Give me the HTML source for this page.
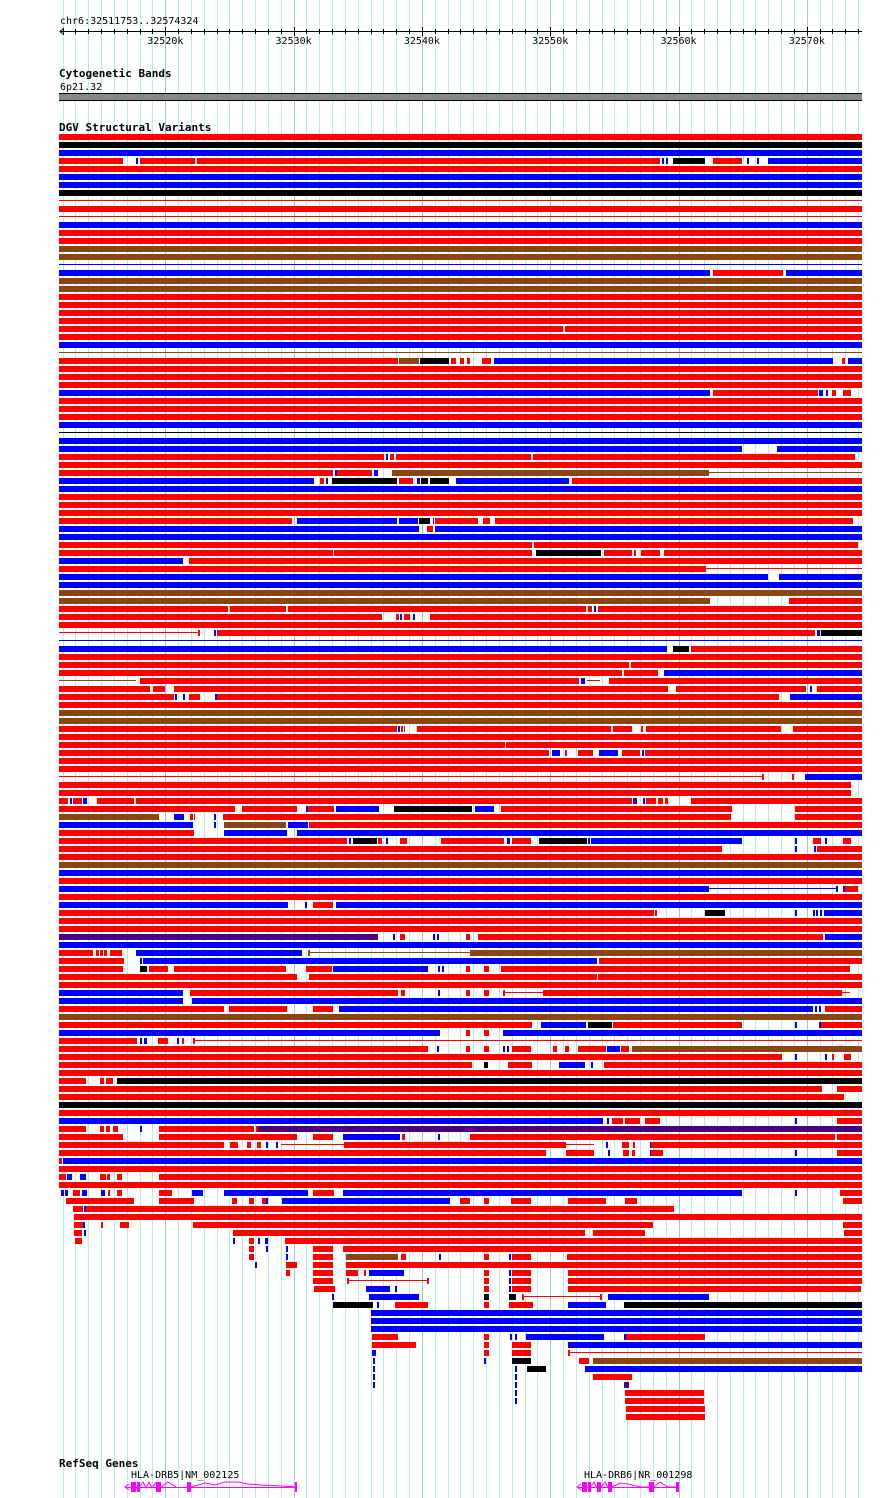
<!DOCTYPE html>
<html><head><meta charset="utf-8">
<style>
html,body{margin:0;padding:0;background:#fff;}
body{width:890px;height:1498px;overflow:hidden;}
svg{display:block;}
text{font-family:"DejaVu Sans Mono","Liberation Mono",monospace;font-size:10px;}
.b{font-weight:bold;font-size:11px;}
</style></head><body>
<svg id="s" width="890" height="1498" xmlns="http://www.w3.org/2000/svg">
<g id="grid"></g>
<g id="ruler"></g>
<text x="60" y="24">chr6:32511753..32574324</text>
<text x="59" y="77" class="b">Cytogenetic Bands</text>
<text x="60" y="90">6p21.32</text>
<rect x="59" y="93" width="803" height="8" fill="#000"/>
<rect x="59" y="94" width="803" height="6" fill="#888"/>
<text x="59" y="131" class="b">DGV Structural Variants</text>
<g id="rows"></g>
<text x="59" y="1467" class="b">RefSeq Genes</text>
<text x="131" y="1478">HLA-DRB5|NM_002125</text>
<text x="584" y="1478">HLA-DRB6|NR_001298</text>
<g id="genes" fill="#ff00ff" stroke="#ff00ff"></g>
</svg>
<script>
var NS="http://www.w3.org/2000/svg";
function el(p,t,a){var e=document.createElementNS(NS,t);for(var k in a)e.setAttribute(k,a[k]);p.appendChild(e);return e;}
var g=document.getElementById('grid');
for(var k=-8;k<=54;k++){var x=165.3+12.83*k;if(x<58||x>863)continue;
 el(g,'rect',{x:Math.round(x),y:0,width:1,height:1498,fill:(k%10==0)?'#98c8e8':'#b4ecf0'});}
var r=document.getElementById('ruler');
el(r,'rect',{x:60,y:31,width:802,height:1,fill:'#000'});
el(r,'path',{d:'M64 28 L60 31.5 L64 35',stroke:'#000',fill:'none'});
for(var k=-8;k<=54;k++){var x=Math.round(165.3+12.83*k);if(x<62||x>862)continue;
 el(r,'rect',{x:x,y:(k%10==0)?27:29,width:1,height:(k%10==0)?9:5,fill:'#000'});}
var labs=['32520k','32530k','32540k','32550k','32560k','32570k'];
for(var i=0;i<6;i++){var t=el(r,'text',{x:165.3+128.3*i,y:44,'text-anchor':'middle'});t.textContent=labs[i];}
var C={r:'#ff0000',b:'#0000ff',k:'#000000',n:'#8b4513',p:'#4b0082'};
var R=[
'r','k','b',
'r 59 123,b 136 138,r 140 195,r 197 660,b 662 664,b 666 668,k 673 705,r 713 742,b 747 749,b 757 759,b 768 862',
'r','b','b','k','r 59 862 t','r','r 59 862 t','b','r','r','n','n','b 59 862 t',
'b 59 710,r 713 783,b 786 862','n','n','r','r','r','r','r 59 563,r 565 862','r','b','n 59 862 t',
'r 59 398,n 399 419,k 420 449,r 451 456,r 460 464,r 467 470,r 482 491,b 494 833,r 842 845,b 848 862',
'r','r','r','b 59 710,r 713 818,b 819 823,b 826 828,r 832 836,r 843 851','r','r','r','b','k 59 862 t','b',
'b 59 742,b 777 862','r 59 384,b 386 388,r 390 394,r 396 531,r 533 855','r',
'r 59 333,b 335 337,r 337 372,b 374 378,n 392 709,n 709 862 t',
'b 59 314,r 320 324,b 326 328,k 332 397,r 399 413,b 417 420,k 421 428,k 430 449,b 456 569,r 572 862',
'b','r','r','r',
'r 59 292,b 297 397,b 399 418,k 419 430,b 433 434,r 435 478,r 483 490,r 495 853',
'b 59 419,r 427 433,b 435 862','b',
'r 59 532,r 534 858','r 59 333,r 334 532,k 536 601,r 604 632,r 634 636,r 641 660,r 664 862',
'b 59 183,r 189 862','r 59 706,r 706 862 t','b 59 768,b 779 862','b','n','n 59 710,r 789 862',
'r 59 228,r 230 286,r 288 586,r 588 592,b 594 596,r 598 862','r 59 382,r 396 399,b 400 402,r 404 410,b 413 415,r 430 862','r',
'r 59 198 t,r 198 200,b 214 216,r 217 815,b 817 820,k 821 862','b 59 862 t','b 59 667,k 673 689,r 691 862','r','r 59 629,r 631 862',
'r 59 622,r 624 658,b 664 862','n 59 136 t,r 140 579,b 581 585,r 587 600 t,r 609 862',
'r 59 150,r 153 165,r 174 668,r 676 806,b 810 812,r 817 862','r 59 174,b 175 177,b 183 185,r 189 200,b 215 217,r 217 779,b 790 862',
'r','n','n','r 59 397,b 398 400,r 401 403,r 404 405,r 417 611,r 613 632,r 641 643,r 646 781,r 793 862','r','r 59 505,r 506 862',
'r 59 549,b 552 560,r 565 567,r 578 593,b 599 618,r 622 640,b 642 644,r 645 862','r','r','r 59 763 t,r 762 764,r 792 794,b 805 862',
'r 59 851','r 59 851',
'r 59 68,b 70 72,r 73 82,b 83 87,r 97 134,r 136 632,p 633 637,b 643 645,r 646 656,r 658 663,r 665 668,r 691 862',
'r 59 235,r 242 297,b 306 308,r 308 334,b 336 379,k 394 472,b 475 494,r 501 732,r 795 862',
'n 59 159,b 174 184,r 190 193,r 194 195,b 214 216,r 223 731,r 795 862',
'b 59 193,b 214 216,n 224 286,b 288 308,r 309 862','r 59 194,b 224 287,b 297 862',
'r 59 347,b 349 351,k 353 377,r 378 382,b 386 388,r 400 407,r 441 504,b 507 510,r 512 531,k 539 587,b 588 590,b 591 742,b 795 797,r 813 821,b 825 827,r 843 851',
'r 59 722,b 795 797,b 814 816,r 817 862','r','n','b','r','b 59 709,b 709 837 t,b 836 838,b 843 845,r 845 858',
'r','b 59 288,b 305 307,r 313 333,b 336 862','r 59 654,r 655 657,k 705 725,b 795 797,b 813 815,b 816 818,b 820 822,b 824 862','r','r',
'p 59 378,b 393 395,r 400 405,b 433 435,b 437 439,r 466 470,r 478 823,b 825 862','b',
'r 59 93,r 96 99,r 100 103,r 104 107,r 110 122,b 136 302,n 308 310,n 310 470 t,n 470 862',
'r 59 124,b 140 142,b 143 597,r 599 862',
'r 59 123,k 140 147,r 149 168,r 174 286,r 306 332,b 333 428,b 438 440,b 442 444,r 466 470,r 484 489,r 501 850',
'r 59 297,r 309 597,r 598 862','r',
'b 59 183,r 190 398,r 401 405,b 438 440,r 466 470,r 484 489,r 503 505,r 505 543 t,r 543 842,r 842 850 t',
'b 59 183,b 192 862','r 59 224,r 229 287,r 313 333,b 339 813,b 815 817,b 819 821,r 825 862','n',
'r 59 532,b 541 586,k 588 612,r 613 742,b 795 797,b 819 821,r 821 862',
'b 59 440,r 466 470,r 484 489,b 503 862','r 59 137,b 140 142,b 144 147,r 158 168,b 177 179,r 182 184,r 193 195,r 193 862 t',
'r 59 428,b 437 439,r 466 470,r 484 489,b 503 505,b 507 509,r 512 531,r 553 557,r 565 569,r 578 606,b 607 620,r 621 629,n 632 862',
'r 59 782,b 795 797,b 825 827,r 832 834,r 844 851','r 59 472,k 484 488,r 508 532,b 559 585,b 591 593,r 604 862','r',
'r 59 86,r 100 104,r 106 113,k 117 862','r 59 822,r 837 862','r 59 844','k','r',
'b 59 603,b 607 609,r 612 623,r 625 640,r 645 660,b 795 797,r 837 862',
'r 59 86,r 100 104,r 106 110,r 113 118,b 140 142,r 159 254,r 256 259,p 258 862',
'r 59 123,r 159 297,r 313 333,b 343 400,r 402 405,b 438 440,r 470 835,r 837 862',
'r 59 224,r 230 238,r 247 251,r 257 261,b 266 268,b 276 278,r 281 344 t,r 344 566,r 566 594 t,b 606 608,r 622 629,r 633 635,b 650 652,r 651 862',
'r 59 546,r 566 594,b 608 610,r 623 629,r 632 635,b 650 652,r 651 663,b 795 797,r 837 862',
'r 59 62,b 63 862','r',
'r 59 66,b 67 72,b 80 86,r 100 106,r 107 110,r 117 122,r 159 862','r',
'b 61 64,b 65 68,r 73 80,b 82 87,b 101 105,r 108 110,r 117 122,r 159 172,b 192 203,b 224 308,r 313 334,b 343 742,b 795 797,r 840 862',
'r 66 134,r 159 194,r 232 237,r 249 254,r 262 267,b 266 268,b 282 450,r 460 470,r 484 489,r 511 531,r 568 606,r 625 637,r 843 862',
'r 73 83,b 84 86,r 86 674','r 74 862',
'r 74 83,b 83 85,r 101 103,r 120 129,r 193 653,r 843 862',
'r 74 82,b 84 86,r 233 585,r 593 645,r 844 862',
'r 75 82,b 233 235,r 249 254,b 258 260,b 265 268,r 285 862',
'r 249 254,b 266 268,b 286 288,r 313 333,r 343 862',
'r 249 254,b 286 288,r 313 333,n 346 398,r 401 406,b 439 441,r 484 489,b 509 511,r 512 531,r 567 862',
'b 255 257,r 286 297,r 313 333,r 346 862',
'r 286 290,r 313 333,r 346 358,r 364 366,b 369 404,r 484 489,b 509 511,r 512 531,r 568 862',
'r 313 333,r 347 349,r 349 428 t,r 427 429,r 484 489,b 509 511,r 512 531,r 568 862',
'r 314 335,b 366 390,b 395 397,r 484 489,b 509 511,r 512 531,r 568 861',
'b 332 334,b 369 419,k 484 489,k 509 516,r 522 524,r 524 600 t,r 600 602,b 608 709',
'k 333 373,b 377 379,r 395 428,r 484 489,r 509 533,b 568 606,k 624 862',
'b 371 862','b 371 862','b 371 862',
'r 372 398,r 484 489,b 510 512,b 515 517,b 526 604,b 624 626,r 626 705',
'r 372 416,r 484 489,r 512 531,b 568 862',
'b 372 376,r 484 489,r 512 531,r 568 570,r 570 862 t',
'b 373 375,b 484 486,k 512 531,r 579 589,n 593 862',
'b 373 375,b 515 517,k 527 546,b 585 862',
'b 373 375,b 515 517,r 593 632',
'b 373 375,b 515 517,p 624 629',
'b 515 517,r 625 704','b 515 517,r 625 704','r 626 705','r 626 705'
];
var rg=document.getElementById('rows');
for(var i=0;i<R.length;i++){
 var y=134+8*i,s=R[i];
 if(s.length==1)s=s+' 59 862';
 var segs=s.split(',');
 for(var j=0;j<segs.length;j++){
  var p=segs[j].trim().split(' ');
  var x1=+p[1],x2=+p[2],thin=p[3]=='t';
  el(rg,'rect',{x:x1,y:thin?y+2:y,width:Math.max(1,x2-x1),height:thin?1:6,fill:C[p[0]]});
 }
}
var gn=document.getElementById('genes');
function gene(x1,x2,ex,intr){
 el(gn,'path',{d:'M'+(x1+4)+' 1484 L'+x1+' 1487 L'+(x1+4)+' 1490',fill:'none','stroke-width':1});
 el(gn,'rect',{x:x1,y:1487,width:x2-x1,height:1,stroke:'none'});
 for(var i=0;i<ex.length;i++)el(gn,'rect',{x:ex[i][0],y:1482,width:ex[i][1]-ex[i][0],height:10,stroke:'none'});
 el(gn,'path',{d:intr,fill:'none','stroke-width':1});
}
gene(125,297,[[131,136],[137,140],[156,161],[187,191],[295,297]],
 'M140 1486 L143 1482 L146 1488 L149 1482 L152 1488 L156 1482 M161 1487 L168 1482 L176 1487 M191 1487 L205 1483 L215 1485 L225 1482 L238 1482 L248 1484 L262 1485 L282 1486 L295 1487');
gene(577,679,[[582,587],[588,591],[597,601],[608,612],[649,654],[676,679]],
 'M591 1486 L594 1482 L597 1488 M601 1487 L605 1482 L608 1488 M612 1487 L620 1483 L628 1484 L640 1487 L649 1487 M654 1487 L660 1482 L668 1487 L676 1487');
</script>
</body></html>
